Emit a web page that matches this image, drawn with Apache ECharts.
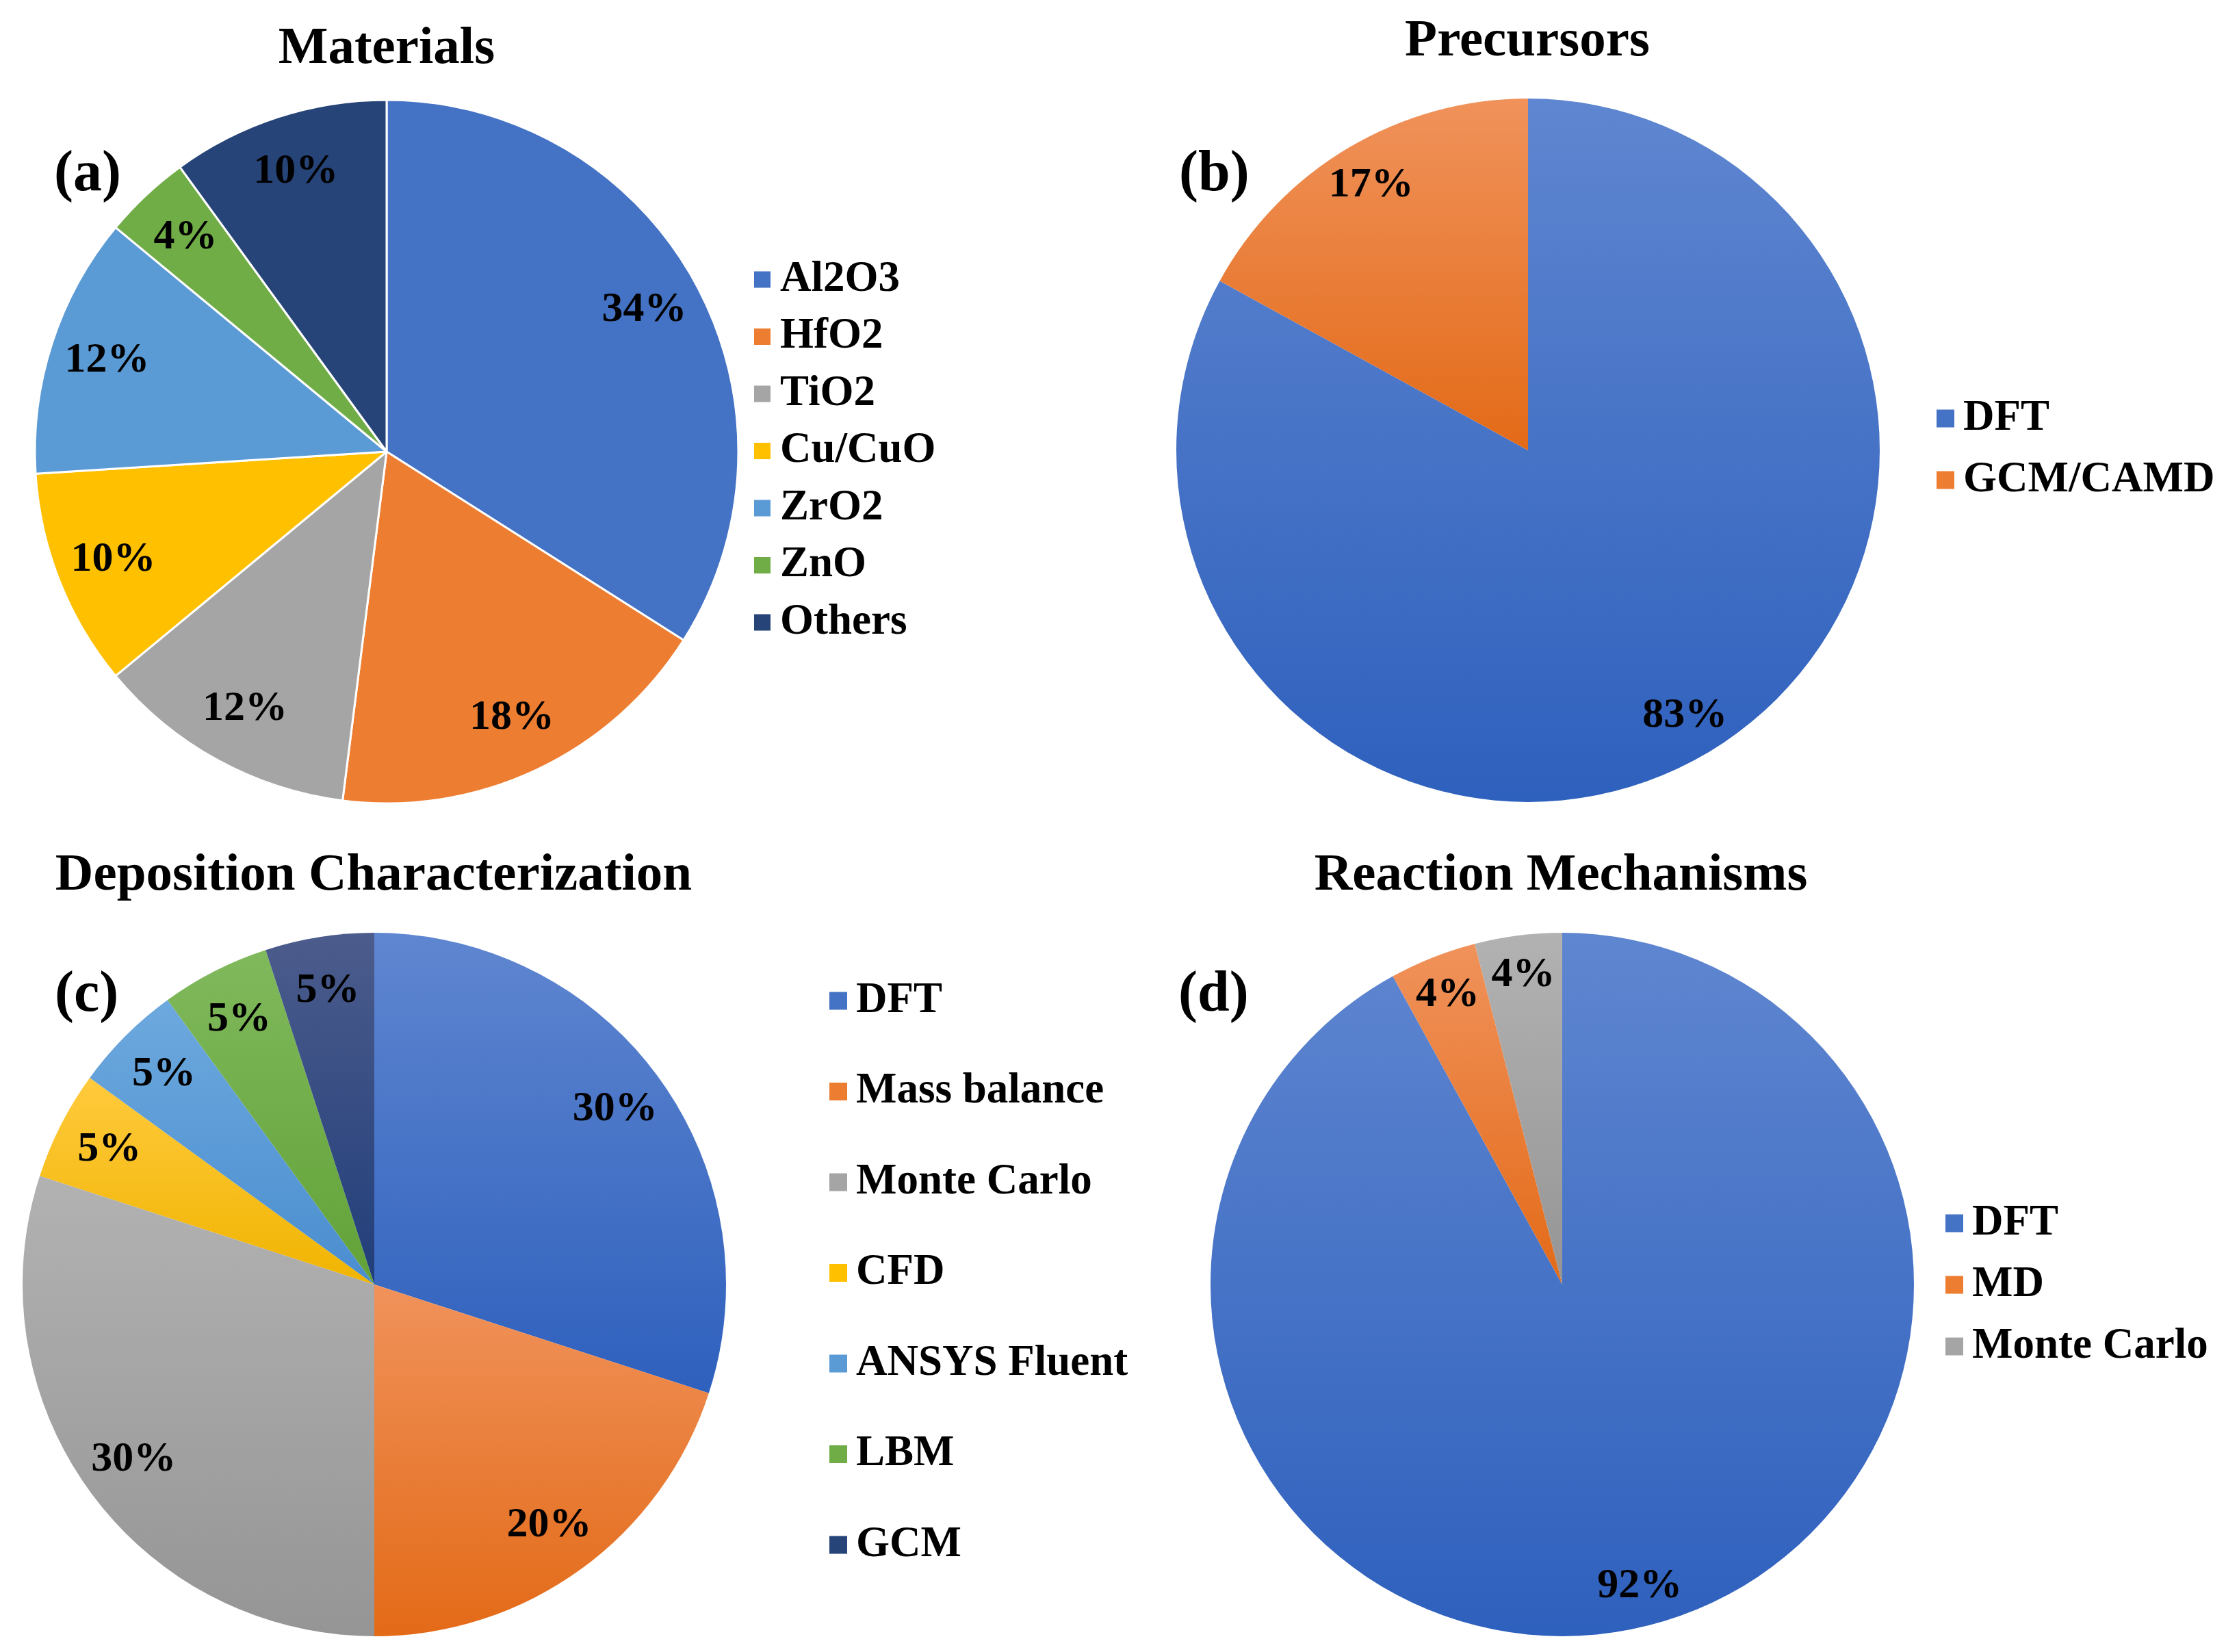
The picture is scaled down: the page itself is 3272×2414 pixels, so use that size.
<!DOCTYPE html>
<html>
<head>
<meta charset="utf-8">
<script src="https://cdn.jsdelivr.net/npm/echarts@6/dist/echarts.min.js"></script>
<style>
html,body{margin:0;padding:0;background:#fff;}
#chart{width:3272px;height:2414px;}
</style>
</head>
<body>
<div id="chart"></div>
<script>
// ---- data ----
const matNames = ['Al2O3', 'HfO2', 'TiO2', 'Cu/CuO', 'ZrO2', 'ZnO', 'Others'];
const matValues = [34, 18, 12, 10, 12, 4, 10];
const preNames = ['DFT', 'GCM/CAMD'];
const preValues = [83, 17];
const depNames = ['DFT', 'Mass balance', 'Monte Carlo', 'CFD', 'ANSYS Fluent', 'LBM', 'GCM'];
const depValues = [30, 20, 30, 5, 5, 5, 5];
const rxnNames = ['DFT', 'MD', 'Monte Carlo'];
const rxnValues = [92, 4, 4];
const panelTitles = ['Materials', 'Precursors', 'Deposition Characterization', 'Reaction Mechanisms'];
const panelLetters = ['(a)', '(b)', '(c)', '(d)'];

// ---- styles ----
const FONT = "'Liberation Serif', 'Times New Roman', serif";
const flat = {
  'Al2O3': '#4472C4', 'HfO2': '#ED7D31', 'TiO2': '#A5A5A5', 'Cu/CuO': '#FFC000',
  'ZrO2': '#5B9BD5', 'ZnO': '#70AD47', 'Others': '#264478'
};
const grad = {
  blue: ['#5F86D0', '#2E60BD', '#4472C4'],
  orange: ['#F0925B', '#E36A17', '#ED7D31'],
  gray: ['#B2B2B2', '#959595', '#A5A5A5'],
  gold: ['#FFCA3D', '#F0B400', '#FFC000'],
  lblue: ['#6DA9DE', '#4A8DCF', '#5B9BD5'],
  green: ['#80B95C', '#62A238', '#70AD47'],
  navy: ['#4C5C8C', '#213E7A', '#264478']
};
const preColors = [grad.blue, grad.orange];
const depColors = [grad.blue, grad.orange, grad.gray, grad.gold, grad.lblue, grad.green, grad.navy];
const rxnColors = [grad.blue, grad.orange, grad.gray];

function lg(c) {
  return { type: 'linear', x: 0, y: 0, x2: 0, y2: 1,
    colorStops: [{ offset: 0, color: c[0] }, { offset: 1, color: c[1] }] };
}

const R = 514;
const LEG_FS = 63;
const panels = [
  { names: matNames, values: matValues, colors: matNames.map(n => flat[n]), legendColors: matNames.map(n => flat[n]),
    center: [565, 660], border: 3, labelMid: 0.83,
    legend: { left: 1100, top: 377, itemGap: 20.5 },
    title: { x: 565, top: 34 }, letter: { left: 79, top: 214 } },
  { names: preNames, values: preValues, colors: preColors.map(lg), legendColors: preColors.map(c => c[2]),
    center: [2233, 658], border: 0, labelMid: 0.87,
    legend: { left: 2830, top: 580, itemGap: 27 },
    title: { x: 2232, top: 23 }, letter: { left: 1723, top: 214 } },
  { names: depNames, values: depValues, colors: depColors.map(lg), legendColors: depColors.map(c => c[2]),
    center: [547, 1877], border: 0, labelMid: 0.84,
    legend: { left: 1212, top: 1431, itemGap: 69.5 },
    title: { x: 546, top: 1242 }, letter: { left: 80, top: 1413 } },
  { names: rxnNames, values: rxnValues, colors: rxnColors.map(lg), legendColors: rxnColors.map(c => c[2]),
    center: [2283, 1877], border: 0, labelMid: 0.88,
    legend: { left: 2843, top: 1756, itemGap: 27 },
    title: { x: 2281, top: 1242 }, letter: { left: 1722, top: 1413 } }
];

const titles = [];
const legends = [];
const series = [];
panels.forEach((p, i) => {
  titles.push({
    text: panelTitles[i], left: p.title.x, top: p.title.top, textAlign: 'center', padding: 0,
    textStyle: { fontFamily: FONT, fontWeight: 'bold', fontSize: 77, color: '#000', lineHeight: 77 }
  });
  titles.push({
    text: panelLetters[i], left: p.letter.left, top: p.letter.top, padding: 0,
    textStyle: { fontFamily: FONT, fontWeight: 'bold', fontSize: 84, color: '#000', lineHeight: 84 }
  });
  legends.push({
    orient: 'vertical', left: p.legend.left, top: p.legend.top, itemGap: p.legend.itemGap,
    itemWidth: 26, itemHeight: 26, icon: 'rect', padding: 0, selectedMode: false,
    data: p.names.map((n, k) => ({ name: n, itemStyle: { color: p.legendColors[k] } })),
    textStyle: { fontFamily: FONT, fontWeight: 'bold', fontSize: LEG_FS, color: '#000', lineHeight: LEG_FS, padding: [0, 0, 0, 8] }
  });
  const data = p.names.map((n, k) => ({ name: n, value: p.values[k], itemStyle: { color: p.colors[k] } }));
  series.push({
    type: 'pie', center: p.center, radius: [0, R], startAngle: 90, clockwise: true,
    silent: true, animation: false, avoidLabelOverlap: false,
    itemStyle: { borderColor: '#fff', borderWidth: p.border },
    label: { show: false }, labelLine: { show: false },
    data: data
  });
});
panels.forEach((p, i) => {
  const w = 1 - p.labelMid;
  series.push({
    type: 'pie', center: p.center, radius: [R * (1 - 2 * w), R], startAngle: 90, clockwise: true,
    silent: true, animation: false, avoidLabelOverlap: false, emphasis: { disabled: true },
    itemStyle: { color: 'rgba(0,0,0,0)', borderWidth: 0 },
    label: {
      show: true, position: 'inside', formatter: q => Math.round(q.percent) + '%',
      fontFamily: FONT, fontWeight: 'bold', fontSize: 62, color: '#000'
    },
    labelLine: { show: false },
    data: p.names.map((n, k) => ({ name: n, value: p.values[k] }))
  });
});

const chart = echarts.init(document.getElementById('chart'), null, { renderer: 'canvas' });
chart.setOption({
  backgroundColor: '#fff',
  animation: false,
  title: titles,
  legend: legends,
  series: series
});
</script>
</body>
</html>
